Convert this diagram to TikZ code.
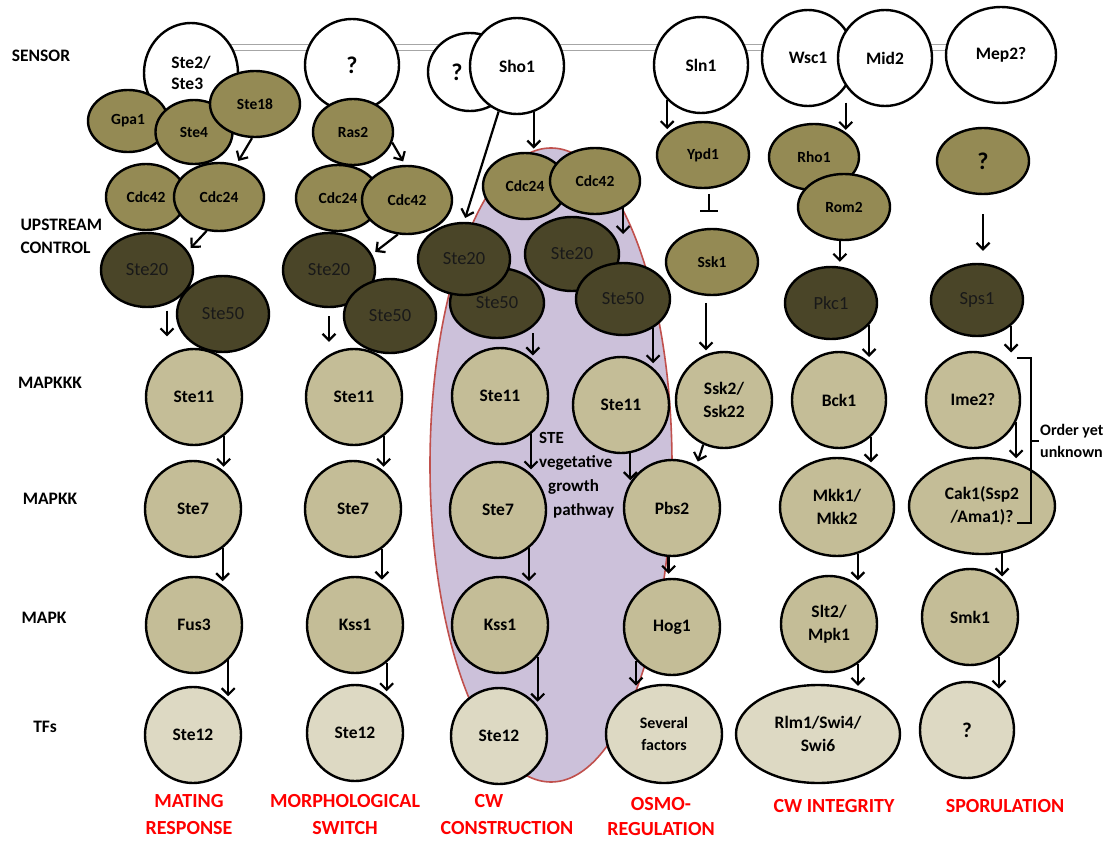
\documentclass[tikz,border=0pt]{standalone}
\usepackage{fontspec}
\setmainfont{Carlito}
\usetikzlibrary{shapes.geometric,arrows.meta,backgrounds}
\definecolor{olv}{HTML}{948A54}
\definecolor{drk}{HTML}{4A4528}
\definecolor{tanc}{HTML}{C4BD97}
\definecolor{tfc}{HTML}{DDD9C3}
\definecolor{vio}{HTML}{CCC1DA}
\definecolor{vred}{HTML}{C0504D}
\begin{document}
\begin{tikzpicture}[x=1pt,y=-1pt,
  base/.style={ellipse, draw=black, line width=2.4pt, inner sep=0pt, align=center},
  sz/.style 2 args={minimum width=#1pt, minimum height=#2pt},
  sens/.style={base, fill=white, font=\bfseries\fontsize{17.5}{21}\selectfont},
  olvn/.style={base, fill=olv, font=\bfseries\fontsize{15.5}{18}\selectfont},
  drkn/.style={base, fill=drk, text=black!90, font=\fontsize{18.5}{21}\selectfont},
  kin/.style={base, fill=tanc, font=\bfseries\fontsize{17.5}{23}\selectfont},
  tfn/.style={base, fill=tfc, font=\bfseries\fontsize{17.5}{23}\selectfont},
  qm/.style={font=\bfseries\fontsize{24}{28}\selectfont},
  rowlab/.style={font=\bfseries\fontsize{17.5}{23}\selectfont, align=left},
  outlab/.style={text=red, font=\bfseries\fontsize{20}{27}\selectfont, align=center},
  arr/.style={line width=2.2pt, -{Straight Barb[length=6.5pt,width=13pt]}, shorten >=4pt},
  blk/.style={line width=2.2pt},
]
\useasboundingbox (0,0) rectangle (1117,843);

% STE vegetative growth region
\node[base, draw=vred, line width=1.6pt, fill=vio, sz={242}{634}] (veg) at (551,465) {};

% sensors
\node[sens, align=left, sz={94}{100}] (s23) at (191,73) {Ste2/\\Ste3};
\node[sens, qm, sz={94}{92}] (q1) at (352,65) {?};
\node[sens, qm, sz={84}{78}] (q2) at (470,72) {?\hspace*{26pt}};
\node[sens, sz={94}{96}] (sho) at (517,66) {Sho1};
\node[sens, sz={94}{96}] (sln) at (701,65) {Sln1};
\node[sens, sz={92}{96}] (wsc) at (808,58) {Wsc1};
\node[sens, sz={94}{96}] (mid) at (885,58) {Mid2};
\node[sens, sz={110}{96}] (mep) at (1001,55) {Mep2?};

\coordinate (memL) at (191,47.5);
\coordinate (memR) at (1001,47.5);
\begin{pgfonlayer}{background}
\draw[draw=gray!70, line width=1.4pt, double=white, double distance=4.4pt] (memL) -- (memR);
\end{pgfonlayer}

% upstream (olive)
\node[olvn, sz={80}{62}] (gpa) at (128,121) {Gpa1};
\node[olvn, sz={77}{64}] (ste4) at (194,132) {Ste4};
\node[olvn, sz={90}{66}] (ste18) at (255,104) {Ste18};
\node[olvn, sz={80}{66}] (cdc42a) at (146,197) {Cdc42};
\node[olvn, sz={90}{68}] (cdc24a) at (219,197) {Cdc24};
\node[olvn, sz={80}{66}] (ras2) at (353,132) {Ras2};
\node[olvn, sz={84}{66}] (cdc24b) at (338,198) {Cdc24};
\node[olvn, sz={90}{68}] (cdc42b) at (407,200) {Cdc42};
\node[olvn, sz={84}{66}] (cdc24c) at (525,186) {Cdc24};
\node[olvn, sz={90}{66}] (cdc42c) at (595,181) {Cdc42};
\node[olvn, sz={92}{66}] (ypd1) at (703,155) {Ypd1};
\node[olvn, sz={92}{66}] (ssk1) at (712,262) {Ssk1};
\node[olvn, sz={90}{66}] (rho1) at (814,157) {Rho1};
\node[olvn, sz={92}{66}] (rom2) at (844,207) {Rom2};
\node[olvn, qm, sz={92}{66}] (qs) at (983,161) {?};

% upstream (dark)
\node[drkn, sz={92}{74}] (ste20a) at (147,270) {Ste20};
\node[drkn, sz={92}{76}] (ste50a) at (223,314) {Ste50};
\node[drkn, sz={92}{74}] (ste20b) at (329,270) {Ste20};
\node[drkn, sz={92}{74}] (ste50b) at (390,316) {Ste50};
\node[drkn, sz={94}{70}] (ste50c) at (497,303) {Ste50};
\node[drkn, sz={92}{72}] (ste20c) at (464,259) {Ste20};
\node[drkn, sz={94}{74}] (ste20d) at (572,254) {Ste20};
\node[drkn, sz={94}{72}] (ste50d) at (623,299) {Ste50};
\node[drkn, sz={92}{72}] (pkc1) at (831,303) {Pkc1};
\node[drkn, sz={92}{72}] (sps1) at (977,300) {Sps1};

% MAPKKK
\node[kin, sz={96}{96}] (s11a) at (194,397) {Ste11};
\node[kin, sz={96}{96}] (s11b) at (354,397) {Ste11};
\node[kin, sz={96}{96}] (s11c) at (500,396) {Ste11};
\node[kin, sz={96}{96}] (s11d) at (621,405) {Ste11};
\node[kin, sz={96}{96}] (ssk2) at (724,400) {Ssk2/\\Ssk22};
\node[kin, sz={94}{96}] (bck1) at (839,400) {Bck1};
\node[kin, sz={94}{96}] (ime2) at (973,400) {Ime2?};

% MAPKK
\node[kin, sz={96}{96}] (s7a) at (193,509) {Ste7};
\node[kin, sz={96}{96}] (s7b) at (353,509) {Ste7};
\node[kin, sz={96}{96}] (s7c) at (498,510) {Ste7};
\node[kin, sz={96}{96}] (pbs2) at (672,508) {Pbs2};
\node[kin, sz={114}{98}] (mkk) at (837,507) {Mkk1/\\Mkk2};
\node[kin, sz={146}{96}] (cak1) at (982,506) {Cak1(Ssp2\\/Ama1)?};

% MAPK
\node[kin, sz={96}{96}] (fus3) at (194,625) {Fus3};
\node[kin, sz={96}{96}] (kss1b) at (355,625) {Kss1};
\node[kin, sz={96}{96}] (kss1c) at (500,625) {Kss1};
\node[kin, sz={96}{96}] (hog1) at (672,627) {Hog1};
\node[kin, sz={96}{96}] (slt2) at (829,624) {Slt2/\\Mpk1};
\node[kin, sz={96}{96}] (smk1) at (970,617) {Smk1};

% TFs
\node[tfn, sz={96}{96}] (s12a) at (193,735) {Ste12};
\node[tfn, sz={96}{96}] (s12b) at (355,733) {Ste12};
\node[tfn, sz={96}{96}] (s12c) at (499,736) {Ste12};
\node[tfn, sz={116}{98}, font=\bfseries\fontsize{16}{22}\selectfont] (sev) at (664,734) {Several\\factors};
\node[tfn, sz={164}{98}] (rlm) at (818,734) {Rlm1/Swi4/\\Swi6};
\node[tfn, sz={94}{96}, font=\bfseries\fontsize{21}{24}\selectfont] (qtf) at (967,730) {?};

% row labels
\node[rowlab] (lsen) at (41,56) {SENSOR};
\node[rowlab, anchor=west] (lup) at (17,236) {UPSTREAM\\CONTROL};
\node[rowlab] (lkkk) at (50,383) {MAPKKK};
\node[rowlab] (lkk) at (50,499) {MAPKK};
\node[rowlab] (lk) at (44,618) {MAPK};
\node[rowlab] (ltf) at (45,727) {TFs};

% outputs
\node[outlab] (omat) at (189,815) {MATING\\RESPONSE};
\node[outlab] (omor) at (345,815) {MORPHOLOGICAL\\SWITCH};
\node[outlab, align=left] (ocw) at (507,815) {\hspace*{34pt}CW\\CONSTRUCTION};
\node[outlab, font=\bfseries\fontsize{20}{25}\selectfont] (oosm) at (661,817) {OSMO-\\REGULATION};
\node[outlab] (ocwi) at (834,806) {CW INTEGRITY};
\node[outlab] (ospo) at (1005,806) {SPORULATION};

% inner texts
\node[font=\bfseries\fontsize{17}{24}\selectfont, align=left, anchor=north west, inner sep=0pt] (vegtxt) at (539,432) {STE\\vegetative\\\hspace*{9pt}growth\\\hspace*{14pt}pathway};
\node[font=\bfseries\fontsize{16}{22}\selectfont, align=left, anchor=west, inner sep=0pt] (ordtxt) at (1040,441) {Order yet\\unknown};

% bracket
\coordinate (brT) at (1017,358);
\coordinate (brB) at (1017,523);
\coordinate (brM) at (1031,441);
\draw[blk] (brT) -- ++(14,0) |- (brB);
\draw[blk] (brM) -- ++(8,0);

% arrows
\draw[arr] (ste18.-95) -- (cdc24a.62);
\draw[arr] (ras2.-15) -- (cdc42b.93);
\draw[arr] (sho.-112) -- (ste20c.90);
\draw[arr] (sho.-70) -- (sho.-70 |- cdc24c.75);
\draw[arr] (cdc24a.-110) -- (ste20a.25);
\draw[arr] (cdc42b.-105) -- (ste20b.20);
\draw[arr, shorten <=6pt, shorten >=18pt] (ste20a.-60) -- (ste20a.-60 |- s11a.120);
\draw[arr, shorten <=8pt, shorten >=13pt] (ste20b.-90) -- (ste20b.-90 |- s11b.121);
\draw[arr, shorten <=6pt] (ste50c.-34) -- (ste50c.-34 |- s11c.48);
\draw[arr] (ste50d.-44) -- (ste50d.-44 |- s11d.50);
\draw[arr] (cdc42c.-44) -- (cdc42c.-44 |- ste20d.20);

\draw[arr] (s11a.-53) -- (s11a.-53 |- s7a.51);
\draw[arr] (s7a.-53) -- (s7a.-53 |- fus3.54);
\draw[arr] (fus3.-46) -- (fus3.-46 |- s12a.45);
\draw[arr] (s11b.-53) -- (s11b.-53 |- s7b.51);
\draw[arr] (s7b.-54) -- (s7b.-54 |- kss1b.57);
\draw[arr] (kss1b.-50) -- (kss1b.-50 |- s12b.50);
\draw[arr] (s11c.-51) -- (s11c.-51 |- s7c.48);
\draw[arr] (s7c.-51) -- (s7c.-51 |- kss1c.54);
\draw[arr] (kss1c.-40) -- (kss1c.-40 |- s12c.38);
\draw[arr] (s11d.-79) -- (s11d.-79 |- pbs2.151);
\draw[arr] (ssk2.-115) -- (pbs2.60);
\draw[arr] (pbs2.-94) -- (pbs2.-94 |- hog1.north);
\draw[arr] (hog1.-137) -- (hog1.-137 |- sev.122);

\draw[arr] (sln.-134) -- (sln.-134 |- ypd1.149);
\draw[blk, -{Bar[width=18pt]}, shorten <=5pt, shorten >=16pt] (ypd1.-80) -- (ypd1.-80 |- ssk1.north);
\draw[arr, shorten <=7pt] (ssk1.-100) -- (ssk1.-100 |- ssk2.112);

\draw[arr, shorten <=16pt] (mid.-144) -- (mid.-144 |- rho1.34);
\draw[arr] (rom2.-97) -- (rom2.-97 |- pkc1.north);
\draw[arr] (pkc1.-30) -- (pkc1.-30 |- bck1.53);
\draw[arr] (bck1.-49) -- (bck1.-49 |- mkk.50);
\draw[arr] (mkk.-66) -- (mkk.-66 |- slt2.54);
\draw[arr] (slt2.-54) -- (slt2.-54 |- rlm.48);

\draw[arr, shorten <=19pt, shorten >=12pt] (qs.south) -- (qs.south |- sps1.north);
\draw[arr, shorten >=17pt] (sps1.-37) -- (sps1.-37 |- ime2.39);
\draw[arr] (ime2.-27) -- (ime2.-27 |- cak1.52);
\draw[arr] (cak1.-67) -- (cak1.-67 |- smk1.48);
\draw[arr] (smk1.-54) -- (smk1.-54 |- qtf.50);
\end{tikzpicture}
\end{document}
